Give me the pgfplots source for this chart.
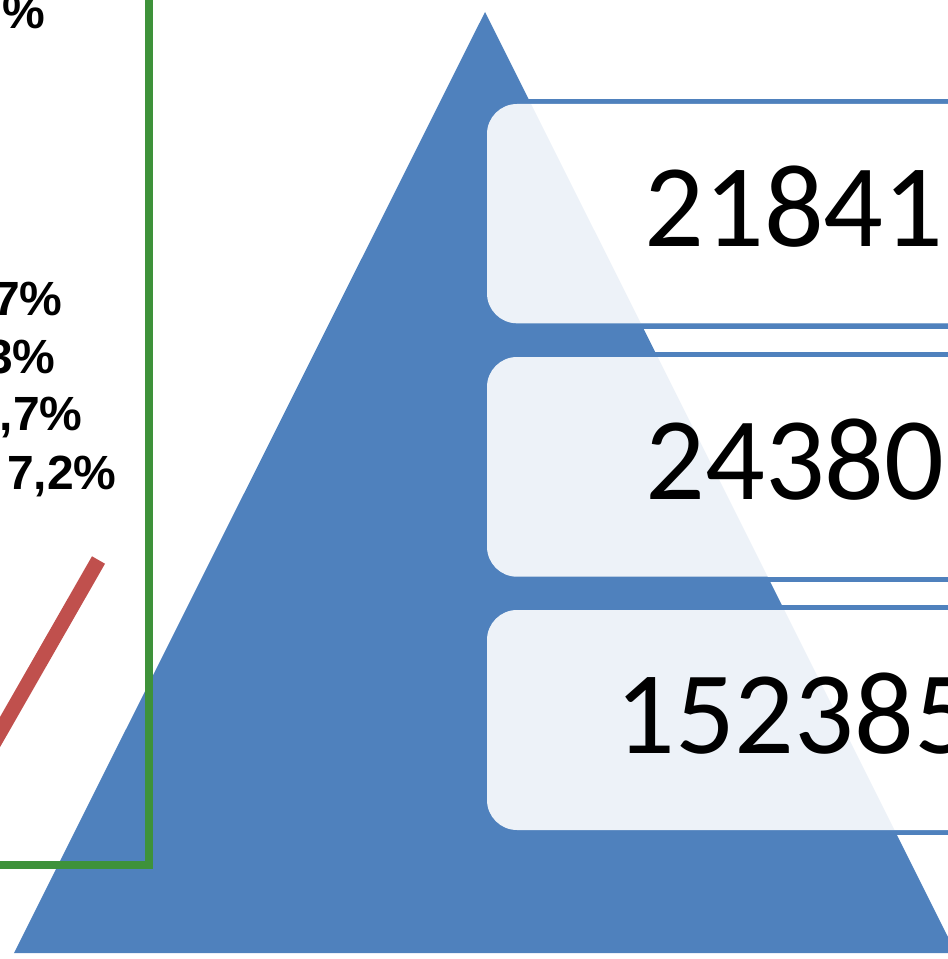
\documentclass[border=0pt]{standalone}
\usepackage{pgfplots}
\pgfplotsset{compat=1.18}
\usepackage{fontspec}
\setmainfont{Liberation Sans}
\newfontfamily\carlito{Carlito}
\definecolor{pyrblue}{RGB}{79,129,189}
\definecolor{boxgreen}{RGB}{62,146,58}
\definecolor{linered}{RGB}{192,80,77}
\newcommand{\numfont}{\carlito\fontsize{118bp}{120bp}\selectfont}
\newcommand{\labfont}{\bfseries\fontsize{48bp}{52bp}\selectfont}
\begin{document}
\begin{tikzpicture}
\path[use as bounding box] (0,0) rectangle (948bp,959bp);
\clip (0,0) rectangle (948bp,959bp);
\begin{axis}[
  at={(0,0)}, anchor=south west,
  scale only axis, width=948bp, height=959bp,
  xmin=0, xmax=948, ymin=0, ymax=959,
  y dir=reverse, hide axis, clip=false]
% pyramid
\addplot[fill=pyrblue, draw=none] coordinates {(485,12) (956,953) (14,953)} -- cycle;
% green frame
\addplot[boxgreen, line width=8bp, line join=miter] coordinates {(-30,864.5) (148.5,864.5) (148.5,-30)};
% blue bands of the three levels
\addplot[fill=pyrblue, draw=none] coordinates {(487,98.7) (970,98.7) (970,104) (487,104)} -- cycle;
\addplot[fill=pyrblue, draw=none] coordinates {(487,323.3) (970,323.3) (970,329.3) (487,329.3)} -- cycle;
\addplot[fill=pyrblue, draw=none] coordinates {(487,352) (970,352) (970,357) (487,357)} -- cycle;
\addplot[fill=pyrblue, draw=none] coordinates {(487,576.7) (970,576.7) (970,582) (487,582)} -- cycle;
\addplot[fill=pyrblue, draw=none] coordinates {(487,605) (970,605) (970,610) (487,610)} -- cycle;
\addplot[fill=pyrblue, draw=none] coordinates {(487,830) (970,830) (970,835) (487,835)} -- cycle;
% rounded boxes
\addplot[fill=white, fill opacity=0.9, draw=none, rounded corners=30bp] coordinates {(990,104) (487,104) (487,323.3) (990,323.3)} -- cycle;
\addplot[fill=white, fill opacity=0.9, draw=none, rounded corners=30bp] coordinates {(990,357) (487,357) (487,576.7) (990,576.7)} -- cycle;
\addplot[fill=white, fill opacity=0.9, draw=none, rounded corners=30bp] coordinates {(990,610) (487,610) (487,830) (990,830)} -- cycle;
% red line
\addplot[linered, line width=15bp] coordinates {(98.5,560) (-20,767)};
% numbers
\node[anchor=base, inner sep=0pt, font=\numfont] at (axis cs:794,246.7) {21841};
\node[anchor=base, inner sep=0pt, font=\numfont] at (axis cs:795,499.3) {24380};
\node[anchor=base west, inner sep=0pt, font=\numfont] at (axis cs:615,753.3) {152385};
% left labels
\node[anchor=base east, inner sep=0pt, font=\labfont] at (axis cs:45,28.5) {\%};
\node[anchor=base east, inner sep=0pt, font=\labfont] at (axis cs:62.7,315) {7\%};
\node[anchor=base east, inner sep=0pt, font=\labfont] at (axis cs:55.7,373) {3\%};
\node[anchor=base east, inner sep=0pt, font=\labfont] at (axis cs:82.7,430) {,7\%};
\node[anchor=base east, inner sep=0pt, font=\labfont] at (axis cs:116.7,489) {7,2\%};
\end{axis}
\end{tikzpicture}
\end{document}
